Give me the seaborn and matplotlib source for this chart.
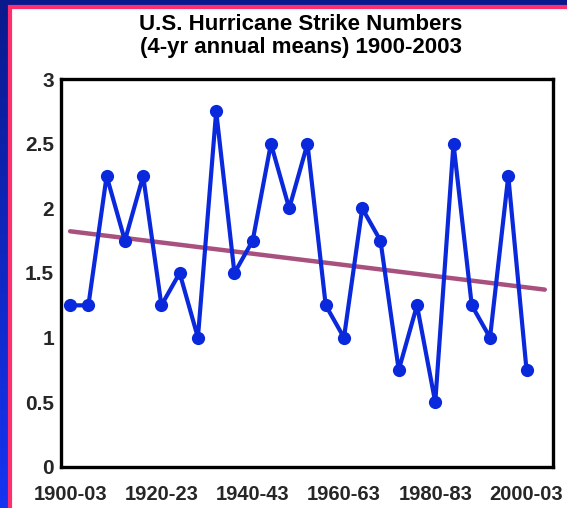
import numpy as np
import pandas as pd
import matplotlib
matplotlib.use("Agg")
import matplotlib.pyplot as plt
from matplotlib.patches import Rectangle
import seaborn as sns

sns.set_theme(style="white")
plt.rcParams['font.family'] = ['Liberation Sans', 'DejaVu Sans']

# ------------------------------
# data (4-yr annual means)
# ------------------------------
periods = ["1900-03", "1904-07", "1908-11", "1912-15", "1916-19",
           "1920-23", "1924-27", "1928-31", "1932-35", "1936-39",
           "1940-43", "1944-47", "1948-51", "1952-55", "1956-59",
           "1960-63", "1964-67", "1968-71", "1972-75", "1976-79",
           "1980-83", "1984-87", "1988-91", "1992-95", "1996-99",
           "2000-03"]
strikes = [1.25, 1.25, 2.25, 1.75, 2.25,
           1.25, 1.5, 1.0, 2.75, 1.5,
           1.75, 2.5, 2.0, 2.5, 1.25,
           1.0, 2.0, 1.75, 0.75, 1.25,
           0.5, 2.5, 1.25, 1.0, 2.25,
           0.75]
label_every = 5
yticks = [0, 0.5, 1, 1.5, 2, 2.5, 3]
ytick_labels = ["0", "0.5", "1", "1.5", "2", "2.5", "3"]

df = pd.DataFrame({"idx": np.arange(len(periods)), "period": periods, "strikes": strikes})

# linear trend, extended one period past the last point
slope, icpt = np.polyfit(df["idx"], df["strikes"], 1)
trend_x = np.array([0, len(periods)])
trend = pd.DataFrame({"idx": trend_x, "val": slope * trend_x + icpt})

# ------------------------------
# figure
# ------------------------------
fig = plt.figure(figsize=(5.67, 5.08), dpi=100)

# blue gradient background + white panel with pink edge
bg = fig.add_axes([0, 0, 1, 1], zorder=-2)
grad = np.linspace(0, 1, 256).reshape(-1, 1)
cmap = matplotlib.colors.LinearSegmentedColormap.from_list("bg", ["#0a1a8c", "#1634f2"])
bg.imshow(grad, aspect="auto", cmap=cmap, extent=[0, 1, 0, 1], origin="upper")
bg.add_patch(Rectangle((10 / 567, -0.05), 1.0, (508 - 7) / 508 + 0.05,
                       facecolor="white", edgecolor="#ff2f6e", linewidth=3,
                       transform=bg.transAxes))
bg.set_xlim(0, 1)
bg.set_ylim(0, 1)
bg.axis("off")

ax = fig.add_axes([61 / 567, 41 / 508, (553 - 61) / 567, (467 - 79) / 508])
ax.set_facecolor("none")

sns.lineplot(data=trend, x="idx", y="val", ax=ax, color="#a8507e", linewidth=3.2)
sns.lineplot(data=df, x="idx", y="strikes", ax=ax, color="#0a28dc", linewidth=3.0,
             marker="o", markersize=9.5, markeredgewidth=0, markerfacecolor="#0a28dc")

ax.set_xlim(-0.5, len(periods) + 0.45)
ax.set_ylim(0, 3)

ax.set_xticks(df["idx"][::label_every])
ax.set_xticklabels(df["period"][::label_every], fontsize=14.5, fontweight="bold")
ax.set_xticks(df["idx"][::label_every] - 0.5, minor=True)
ax.set_yticks(yticks)
ax.set_yticklabels(ytick_labels, fontsize=15, fontweight="bold")

ax.tick_params(axis="x", which="major", length=0, pad=13)
ax.tick_params(axis="x", which="minor", direction="inout", length=10, width=3, color="black")
ax.tick_params(axis="y", direction="inout", length=10, width=3, color="black", pad=0)
ax.set_xlabel("")
ax.set_ylabel("")

for side in ["left", "bottom", "top", "right"]:
    ax.spines[side].set_visible(True)
    ax.spines[side].set_color("black")
    ax.spines[side].set_linewidth(2.4)

fig.text(301 / 567, 1 - 14 / 508,
         "U.S. Hurricane Strike Numbers\n(4-yr annual means) 1900-2003",
         ha="center", va="top", fontsize=16, fontweight="bold",
         linespacing=1.1, color="black")

fig.savefig("out.png", dpi=100)
